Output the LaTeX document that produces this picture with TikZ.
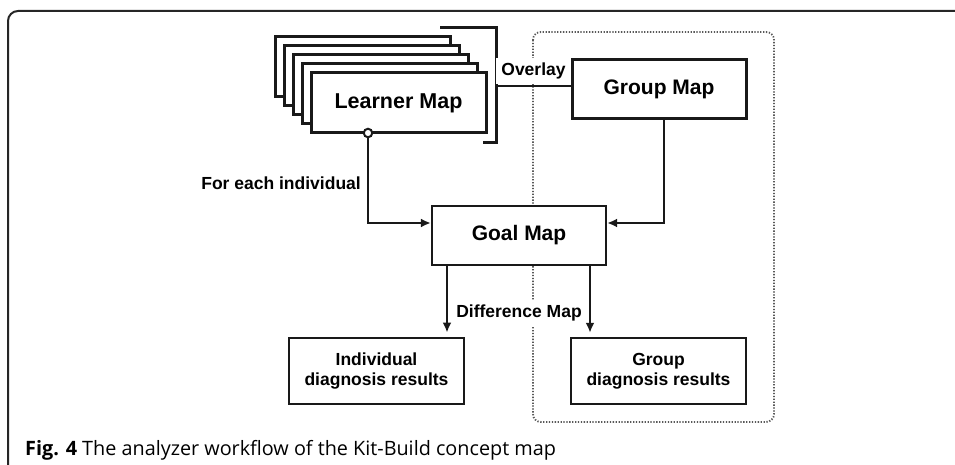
\documentclass[tikz,border=0pt]{standalone}
\usepackage{fontspec}
\setmainfont{Liberation Sans}
\newfontfamily\capfont{Open Sans}
\usetikzlibrary{arrows.meta}
\tikzstyle{mapbox}=[draw=black!90,fill=white,font=\bfseries\fontsize{21}{24}\selectfont,minimum width=175pt,minimum height=60pt,inner sep=0pt]
\tikzstyle{resbox}=[mapbox,font=\bfseries\fontsize{17.5}{20}\selectfont,align=center,minimum height=66pt]
\tikzstyle{lbl}=[fill=white,font=\bfseries\fontsize{17.5}{20}\selectfont,inner sep=5pt]
\tikzstyle{flow}=[-{Latex[length=10pt,width=9pt]},line width=2.5pt,draw=black!90]
\tikzstyle{grouparea}=[dash pattern=on 1.3pt off 1.6pt,line width=1.8pt,draw=black!65,rounded corners=8pt]

\begin{document}
\begin{tikzpicture}[x=1pt,y=-1pt]
      \useasboundingbox (0,0) rectangle (955,465);
      \draw[line width=2pt,black!85,rounded corners=10pt] (8,465) -- (8,11) -- (955,11);
      \draw[grouparea] (533,32) rectangle (774,422);
      % stack of learner maps
      \foreach \k in {4,3,2,1}
        \draw[line width=3pt,draw=black!90,fill=white] ({311-9*\k},{73-9*\k}) rectangle ++(175,60);
      \node[mapbox,line width=3pt,font=\bfseries\fontsize{21.5}{24}\selectfont] at (398.5,103) (learner) {Learner Map};
      \draw[line width=3pt,black!90] (440,28) -- (496,28) -- (496,143) -- (483,143);
      \node[mapbox,line width=3pt,minimum width=174pt,minimum height=59pt] at (659,89.5) (grp) {Group Map};
      \node[mapbox,line width=2.3pt,minimum width=174pt,minimum height=59pt] at (519,235.5) (goal) {Goal Map};
      \node[resbox,line width=2.9pt] at (376.5,371) (indiv) {Individual\\diagnosis results};
      \node[resbox,line width=2.5pt] at (658.5,371) (grpres) {Group\\diagnosis results};
      \node[circle,draw=black!90,line width=2pt,fill=white,inner sep=0pt,minimum size=8.5pt] at (368,133) (ind) {};
      \node[lbl] at (533.5,71) (ovl) {Overlay};
      \node[lbl] at (519,313) (diff) {Difference Map};
      \node[lbl,fill=none,inner sep=0pt,anchor=east] at (361,183) (each) {For each individual};
      \coordinate (brk) at (496,86);
      \coordinate (gin) at (goal.west |- 0,223);
      \coordinate (gout) at (goal.east |- 0,223);
      \coordinate (gm) at ([xshift=5pt]grp.south);
      \coordinate (gl) at ([xshift=-72pt]goal.south);
      \coordinate (gr) at ([xshift=71pt]goal.south);
      \draw[line width=2.5pt,black!90] (brk) -- (brk -| grp.west);
      \draw[flow] (ind) |- (gin);
      \draw[flow] (gm) |- (gout);
      \draw[flow,shorten >=4pt] (gl) -- (gl |- indiv.north);
      \draw[flow,shorten >=4pt] (gr) -- (gr |- grpres.north);
      \node[anchor=base west,inner sep=0pt,font=\capfont\fontsize{19.8}{22}\selectfont] at (25,455) (cap) {\textbf{Fig. 4} The analyzer workflow of the Kit-Build concept map};
    \end{tikzpicture}
\end{document}
